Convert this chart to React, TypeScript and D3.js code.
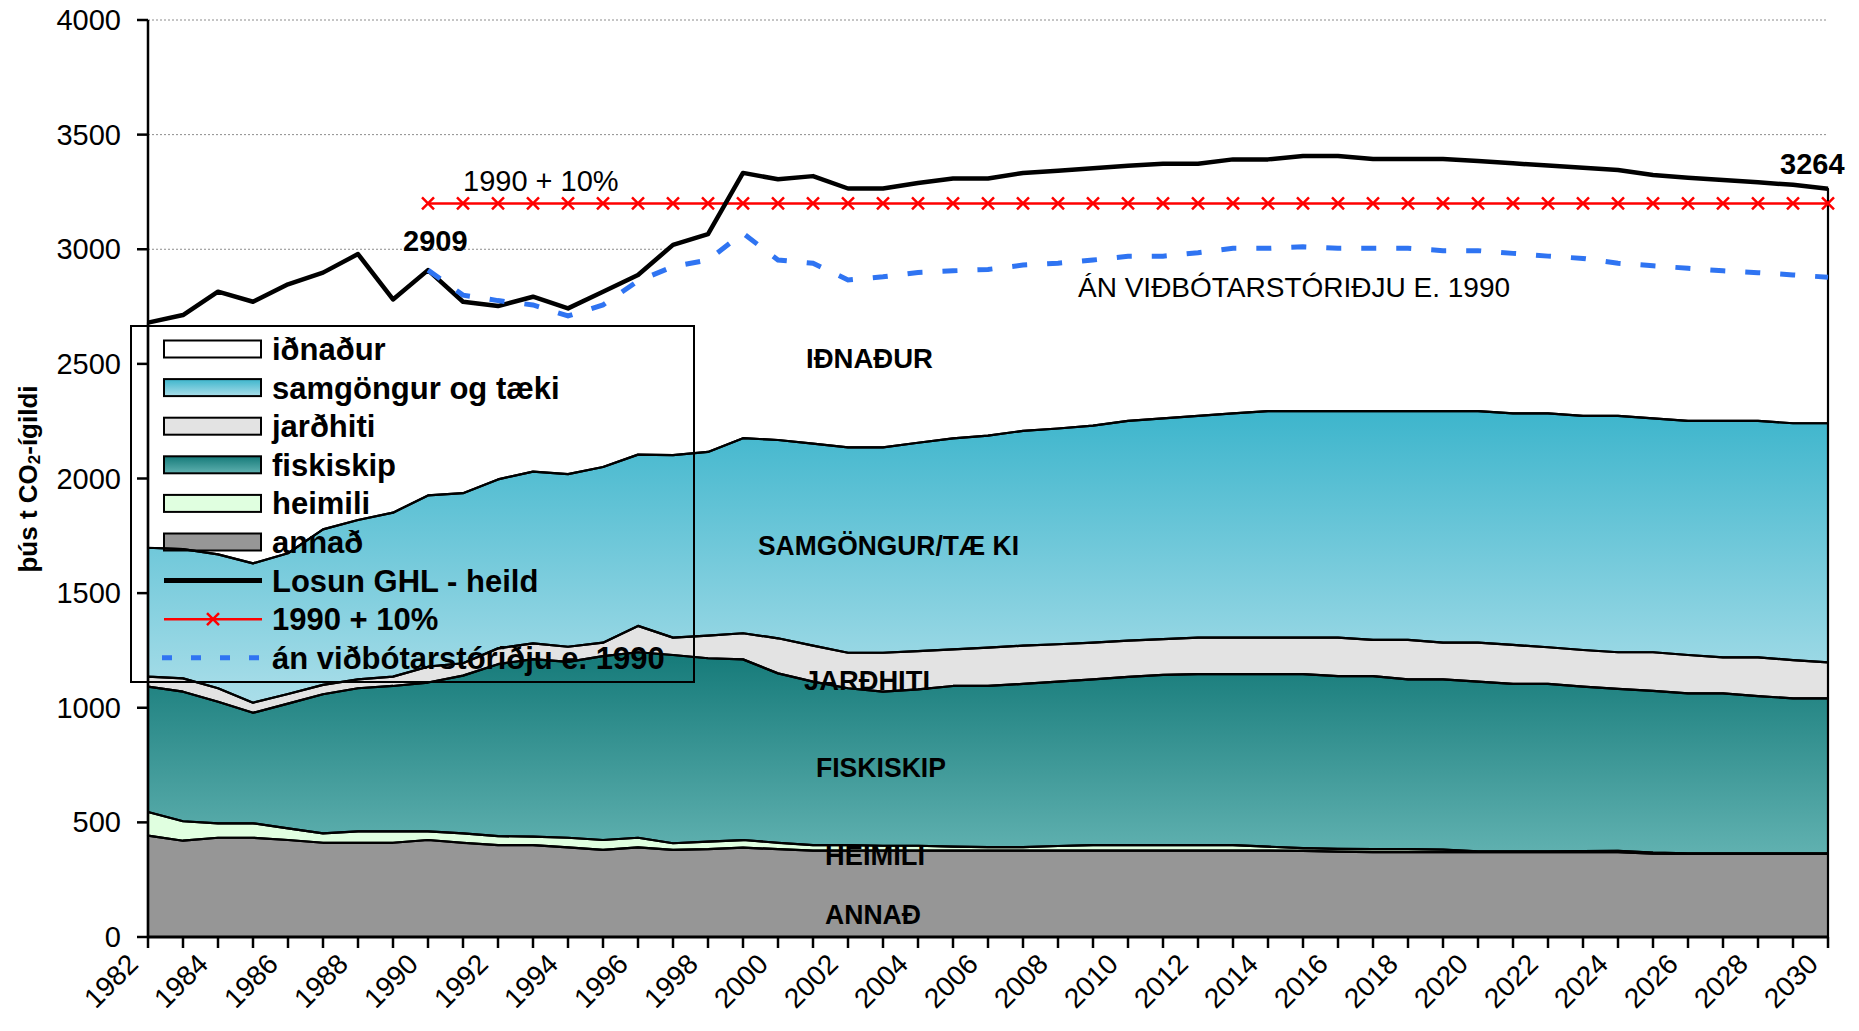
import React from 'react';
import * as d3 from 'd3';

// categories
const YEARS = d3.range(1982, 2031);
const DASH_YEARS = d3.range(1990, 2031);

// series values (þús t CO2-ígildi)
const ANNAD = [442, 420, 433, 433, 423, 411, 411, 411, 423, 411,
  401, 401, 391, 380, 391, 380, 383, 390, 383, 377,
  377, 377, 377, 377, 377, 377, 377, 377, 377, 377,
  377, 377, 377, 376, 372, 370, 370, 370, 370, 370,
  370, 370, 370, 364, 362, 362, 362, 362, 362];
const HEIMILI = [103, 85, 63, 63, 51, 41, 50, 50, 38, 41,
  39, 37, 42, 43, 42, 29, 33, 33, 28, 24,
  24, 21, 21, 17, 15, 15, 20, 24, 24, 24,
  24, 24, 17, 12, 12, 13, 13, 11, 4, 4,
  4, 5, 6, 4, 3, 3, 3, 3, 3];
const FISKISKIP = [547, 565, 530, 482, 544, 607, 624, 634, 649, 688,
  750, 774, 767, 802, 809, 821, 800, 788, 739, 713,
  684, 672, 682, 701, 703, 712, 717, 723, 734, 742,
  746, 746, 753, 759, 754, 755, 741, 743, 740, 730,
  730, 717, 706, 706, 698, 698, 686, 676, 676];
const JARDHITI = [44, 58, 59, 44, 42, 41, 39, 41, 69, 54,
  69, 69, 66, 59, 115, 76, 99, 114, 153, 157,
  155, 170, 167, 160, 167, 167, 163, 160, 158, 156,
  159, 159, 159, 159, 168, 158, 172, 160, 170, 170,
  160, 160, 160, 168, 167, 157, 169, 167, 157];
const SAMGONGUR = [562, 564, 584, 608, 614, 678, 695, 715, 747, 742,
  737, 749, 753, 766, 747, 796, 801, 851, 865, 881,
  896, 896, 909, 920, 925, 937, 941, 947, 958, 963,
  967, 978, 988, 988, 988, 998, 998, 1010, 1010, 1010,
  1020, 1021, 1031, 1020, 1021, 1031, 1031, 1033, 1043];
const IDNADUR = [982, 1021, 1146, 1141, 1173, 1120, 1160, 930, 983, 835,
  756, 763, 723, 765, 784, 917, 950, 1157, 1137, 1167,
  1129, 1129, 1133, 1134, 1122, 1125, 1124, 1122, 1113, 1111,
  1100, 1108, 1098, 1113, 1113, 1100, 1100, 1100, 1091, 1091,
  1081, 1083, 1073, 1062, 1061, 1051, 1041, 1040, 1023];
// án viðbótarstóriðju e. 1990
const AN_STORIDJU = [2909, 2800, 2776, 2757, 2709, 2757, 2862, 2924, 2953, 3070,
  2953, 2939, 2866, 2880, 2899, 2906, 2912, 2931, 2939, 2953,
  2969, 2970, 2985, 3004, 3004, 3011, 3004, 3004, 3004, 2994,
  2994, 2982, 2970, 2960, 2939, 2928, 2917, 2906, 2898, 2888,
  2878];
const TARGET_1990 = 3200; // 1990 + 10%
const Y_TICKS = [0, 500, 1000, 1500, 2000, 2500, 3000, 3500, 4000];

const FONT = 'Liberation Sans, Arial, Helvetica, sans-serif';
const W = 1859;
const H = 1031;
const L = 148, R = 1828, T = 20, B = 937;

const LAYERS = [
  { key: 'annad', values: ANNAD, fill: '#969696' },
  { key: 'heimili', values: HEIMILI, fill: '#e0ffe0' },
  { key: 'fiskiskip', values: FISKISKIP, fill: 'url(#gFisk)' },
  { key: 'jardhiti', values: JARDHITI, fill: '#e3e3e3' },
  { key: 'samgongur', values: SAMGONGUR, fill: 'url(#gSam)' },
  { key: 'idnadur', values: IDNADUR, fill: '#ffffff' },
];

const LEGEND = [
  { label: 'iðnaður', type: 'box', fill: '#ffffff' },
  { label: 'samgöngur og tæki', type: 'box', fill: 'url(#gSam)' },
  { label: 'jarðhiti', type: 'box', fill: '#e3e3e3' },
  { label: 'fiskiskip', type: 'box', fill: 'url(#gFisk)' },
  { label: 'heimili', type: 'box', fill: '#e0ffe0' },
  { label: 'annað', type: 'box', fill: '#969696' },
  { label: 'Losun GHL - heild', type: 'total' },
  { label: '1990 + 10%', type: 'target' },
  { label: 'án viðbótarstóriðju e. 1990', type: 'dash' },
];

const Cross = ({ cx, cy }: { cx: number; cy: number }) => (
  <path d={`M${cx - 6},${cy - 6}L${cx + 6},${cy + 6}M${cx - 6},${cy + 6}L${cx + 6},${cy - 6}`}
    stroke="#ff0000" strokeWidth={2.5} />
);

export default function App() {
  const x = d3.scaleLinear().domain([1982, 2030]).range([L, R]);
  const y = d3.scaleLinear().domain([0, 4000]).range([B, T]);

  const rows = YEARS.map((year, i) => {
    const r: any = { year };
    LAYERS.forEach((l) => { r[l.key] = l.values[i]; });
    return r;
  });
  const series = d3.stack<any>().keys(LAYERS.map((l) => l.key))(rows);

  const area = d3.area<any>()
    .x((d) => x(d.data.year))
    .y0((d) => y(d[0]))
    .y1((d) => y(d[1]));

  const totals = series[series.length - 1].map((d) => ({ year: d.data.year, v: d[1] }));
  const line = d3.line<{ year: number; v: number }>().x((d) => x(d.year)).y((d) => y(d.v));
  const dashData = DASH_YEARS.map((year, i) => ({ year, v: AN_STORIDJU[i] }));
  const targetData = DASH_YEARS.map((year) => ({ year, v: TARGET_1990 }));

  const fills = series.map((s, i) => (
    <path key={s.key} d={area(s) || ''} fill={LAYERS[i].fill} stroke="none" />
  ));

  const legendRowY = (i: number) => 349 + i * 38.6;

  return (
    <svg width={W} height={H} style={{ position: 'absolute', left: 0, top: 0, display: 'block' }}
      fontFamily={FONT}>
      <defs>
        <linearGradient id="gSam" x1="0" y1="0" x2="0" y2="1">
          <stop offset="0" stopColor="#3db5cc" />
          <stop offset="1" stopColor="#aadee9" />
        </linearGradient>
        <linearGradient id="gFisk" x1="0" y1="0" x2="0" y2="1">
          <stop offset="0" stopColor="#157a79" />
          <stop offset="1" stopColor="#60b1b0" />
        </linearGradient>
      </defs>
      <rect x={0} y={0} width={W} height={H} fill="#ffffff" />

      {/* gridlines */}
      {Y_TICKS.filter((t) => t > 0).map((t) => (
        <line key={t} x1={L} x2={R} y1={y(t)} y2={y(t)} stroke="#8c8c8c" strokeWidth={1} strokeDasharray="2,2" />
      ))}

      {/* area fills, HEIMILI label tucked under the upper layers */}
      {fills.slice(0, 2)}
      <text x={825} y={865} fontSize={28} fontWeight="bold" textLength={100} lengthAdjust="spacingAndGlyphs">HEIMILI</text>
      {fills.slice(2)}

      {/* legend, drawn under the series outlines */}
      <g>
        {LEGEND.map((item, i) => {
          const cy = legendRowY(i);
          let sym: React.ReactNode = null;
          if (item.type === 'box') {
            sym = <rect x={164} y={cy - 8.5} width={97} height={17} fill={item.fill} stroke="#000" strokeWidth={2} />;
          } else if (item.type === 'total') {
            sym = <line x1={164} x2={262} y1={cy} y2={cy} stroke="#000" strokeWidth={5} />;
          } else if (item.type === 'target') {
            sym = (
              <g>
                <line x1={164} x2={262} y1={cy} y2={cy} stroke="#ff0000" strokeWidth={2.5} />
                <Cross cx={213} cy={cy} />
              </g>
            );
          } else {
            sym = <line x1={162} x2={259} y1={cy} y2={cy} stroke="#2f74f2" strokeWidth={5} strokeDasharray="10,19" />;
          }
          return (
            <g key={item.label}>
              {sym}
              <text x={272} y={cy + 11} fontSize={31} fontWeight="bold" fill="#000">{item.label}</text>
            </g>
          );
        })}
        <rect x={131} y={326} width={563} height={356} fill="none" stroke="#000" strokeWidth={2} />
      </g>

      {/* area outlines */}
      {series.map((s) => (
        <path key={`o-${s.key}`} d={area(s) || ''} fill="none" stroke="#000" strokeWidth={2.2} strokeLinejoin="round" />
      ))}

      {/* 1990 + 10% */}
      <path d={line(targetData) || ''} fill="none" stroke="#ff0000" strokeWidth={2.5} />
      {targetData.map((d) => <Cross key={d.year} cx={x(d.year)} cy={y(d.v)} />)}

      {/* Losun GHL - heild */}
      <path d={line(totals) || ''} fill="none" stroke="#000" strokeWidth={4.5} strokeLinejoin="round" />

      {/* án viðbótarstóriðju e. 1990 */}
      <path d={line(dashData) || ''} fill="none" stroke="#2f74f2" strokeWidth={5} strokeDasharray="15,20" />

      {/* annotations */}
      <text x={463} y={191} fontSize={29}>1990 + 10%</text>
      <text x={403} y={251} fontSize={29} fontWeight="bold">2909</text>
      <text x={1780} y={174} fontSize={29} fontWeight="bold">3264</text>
      <text x={1078} y={297} fontSize={28}>ÁN VIÐBÓTARSTÓRIÐJU E. 1990</text>
      <text x={806} y={368} fontSize={28} fontWeight="bold" textLength={127} lengthAdjust="spacingAndGlyphs">IÐNAÐUR</text>
      <text x={758} y={555} fontSize={28} fontWeight="bold" textLength={261} lengthAdjust="spacingAndGlyphs">SAMGÖNGUR/TÆ KI</text>
      <text x={804} y={690} fontSize={28} fontWeight="bold" textLength={126} lengthAdjust="spacingAndGlyphs">JARÐHITI</text>
      <text x={816} y={777} fontSize={28} fontWeight="bold" textLength={130} lengthAdjust="spacingAndGlyphs">FISKISKIP</text>
      <text x={825} y={924} fontSize={28} fontWeight="bold" textLength={96} lengthAdjust="spacingAndGlyphs">ANNAÐ</text>

      {/* y axis */}
      <line x1={L} x2={L} y1={T} y2={B} stroke="#000" strokeWidth={2.5} />
      {Y_TICKS.map((t) => (
        <g key={t}>
          <line x1={L - 11} x2={L} y1={y(t)} y2={y(t)} stroke="#000" strokeWidth={2.5} />
          <text x={121} y={y(t)} textAnchor="end" dominantBaseline="central" fontSize={29}>{t}</text>
        </g>
      ))}
      <text transform="translate(28,479) rotate(-90)" textAnchor="middle" dominantBaseline="central"
        fontSize={26} fontWeight="bold">
        þús t CO<tspan fontSize={17} dy={6}>2</tspan><tspan dy={-6}>-ígildi</tspan>
      </text>

      {/* x axis */}
      <line x1={L} x2={R} y1={B} y2={B} stroke="#000" strokeWidth={3} />
      {YEARS.map((yr) => (
        <line key={yr} x1={x(yr)} x2={x(yr)} y1={B} y2={B + 11} stroke="#000" strokeWidth={2.5} />
      ))}
      {YEARS.filter((yr) => yr % 2 === 0).map((yr) => (
        <text key={`l-${yr}`} transform={`translate(${x(yr) - 15},959) rotate(-45)`} textAnchor="end"
          dominantBaseline="central" fontSize={28}>{yr}</text>
      ))}
    </svg>
  );
}
